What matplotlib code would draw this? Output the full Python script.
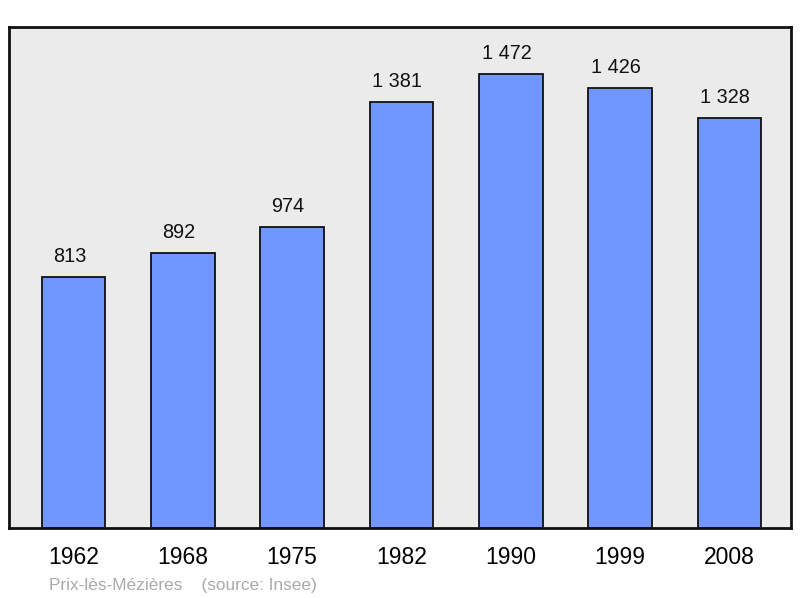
import matplotlib.pyplot as plt

# Population of Prix-lès-Mézières (source: Insee)
YEARS = ['1962', '1968', '1975', '1982', '1990', '1999', '2008']
POPULATION = [813, 892, 974, 1381, 1472, 1426, 1328]

BAR_COLOR = '#7096ff'
BG_COLOR = '#ebebeb'

plt.rcParams['font.family'] = ['Liberation Sans', 'DejaVu Sans']


def fmt(n):
    # French style thousands separator
    return f'{n:,}'.replace(',', ' ')


def main():
    fig = plt.figure(figsize=(8, 5.98), dpi=100)
    ax = fig.add_axes([9 / 800, 1 - 528 / 598, 782 / 800, 501 / 598])
    ax.set_facecolor(BG_COLOR)

    x = range(len(YEARS))
    bars = ax.bar(x, POPULATION, width=0.58, color=BAR_COLOR,
                  edgecolor='#111111', linewidth=1.3, zorder=2)

    for rect, val in zip(bars, POPULATION):
        ax.annotate(fmt(val), (rect.get_x() + rect.get_width() / 2, rect.get_height()),
                    xytext=(-3, 8), textcoords='offset points',
                    ha='center', va='bottom', fontsize=14.3, color='#111111')

    ax.set_xlim(-0.59, 6.563)
    ax.set_ylim(0, 1623)
    ax.set_yticks([])
    ax.set_xticks(list(x))
    ax.set_xticklabels(YEARS, fontsize=16.5)
    ax.tick_params(axis='x', length=0, pad=13)

    for sp in ax.spines.values():
        sp.set_linewidth(2)
        sp.set_color('#111111')

    fig.text(49 / 800, 1 - 590 / 598, 'Prix-lès-Mézières    (source: Insee)',
             fontsize=12.4, color='#aaaaaa', ha='left', va='baseline')

    fig.savefig('out.png', dpi=100)
    plt.close(fig)


if __name__ == '__main__':
    main()
